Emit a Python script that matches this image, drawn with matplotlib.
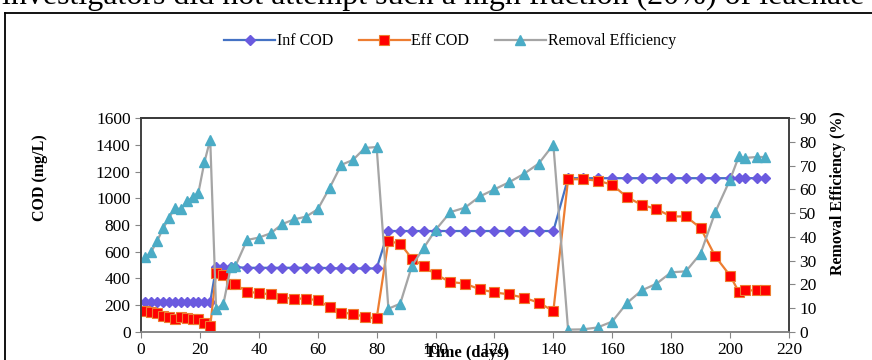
import matplotlib
matplotlib.use("Agg")
import matplotlib.pyplot as plt
from matplotlib.lines import Line2D

plt.rcParams["font.family"] = ["Liberation Serif", "DejaVu Serif"]

# ---- data ----
days = [1.5, 3.5, 5.5, 7.5, 9.5, 11.5, 13.5, 15.5, 17.5, 19.5, 21.5, 23.5,
        25.5, 28, 30.5, 32, 36, 40, 44, 48, 52, 56, 60, 64, 68, 72, 76, 80,
        84, 88, 92, 96, 100, 105, 110, 115, 120, 125, 130, 135, 140,
        145, 150, 155, 160, 165, 170, 175, 180, 185, 190, 195, 200, 203, 205, 209, 212]

inf_cod = [225, 225, 225, 225, 225, 225, 225, 225, 225, 225, 225, 225,
           485, 485, 485, 485, 480, 480, 480, 480, 480, 480, 480, 478, 475, 475, 475, 475,
           755, 755, 755, 755, 755, 755, 755, 755, 755, 755, 755, 755, 755,
           1150, 1150, 1150, 1150, 1150, 1150, 1150, 1150, 1150, 1150, 1150, 1150, 1150, 1150, 1150, 1150]

eff_cod = [160, 150, 140, 122, 115, 100, 112, 104, 96, 96, 66, 42,
           442, 428, 362, 357, 300, 292, 281, 257, 250, 249, 237, 187, 144, 137, 112, 101,
           680, 660, 549, 492, 431, 374, 362, 319, 296, 281, 256, 220, 157,
           1142, 1142, 1132, 1101, 1008, 951, 919, 864, 864, 777, 565, 421, 299, 311, 311, 311]

removal = [31.4, 33.8, 38.3, 43.6, 47.8, 52.3, 51.6, 54.9, 56.7, 58.6, 71.3, 80.9,
           9.6, 11.9, 27.5, 27.6, 38.7, 39.7, 41.5, 45.4, 47.4, 48.5, 51.6, 60.5, 70.3, 72.4, 77.4, 77.8,
           9.8, 11.9, 27.9, 35.4, 42.9, 50.4, 52.3, 57.0, 60.0, 63.0, 66.5, 70.8, 78.8,
           1.0, 1.1, 1.9, 4.4, 12.2, 17.5, 20.3, 25.1, 25.5, 33.0, 50.5, 64.1, 73.9, 73.2, 73.6, 73.6]

x_ticks = list(range(0, 221, 20))
cod_ticks = list(range(0, 1601, 200))
re_ticks = list(range(0, 91, 10))

fig = plt.figure(figsize=(8.72, 3.6), dpi=100)
ax = fig.add_axes([0.1617, 0.0778, 0.7431, 0.5944])
ax2 = ax.twinx()

l1, = ax.plot(days, inf_cod, color="#4472C4", lw=1.6, marker="D", ms=5,
              mfc="#6A5ADF", mec="#6A5ADF", label="Inf COD")
l2, = ax.plot(days, eff_cod, color="#ED7D31", lw=1.6, marker="s", ms=6.5,
              mfc="#FF0000", mec="#ED7D31", mew=0.8, label="Eff COD")
l3, = ax2.plot(days, removal, color="#A5A5A5", lw=1.6, marker="^", ms=7,
               mfc="#4BACC6", mec="#4BACC6", label="Removal Efficiency")

ax.set_xlim(0, 220)
ax.set_ylim(0, 1600)
ax2.set_ylim(0, 90)
ax.set_xticks(x_ticks)
ax.set_yticks(cod_ticks)
ax2.set_yticks(re_ticks)

for a in (ax, ax2):
    a.tick_params(labelsize=12.5, length=4, color="#868686", direction="out")
    for s in a.spines.values():
        s.set_color("#404040")
        s.set_linewidth(1.2)
    a.spines["bottom"].set_color("#868686")
ax.spines["top"].set_color("black")

ax.set_ylabel("COD (mg/L)", fontsize=11.5, fontweight="bold", va="center")
ax.yaxis.set_label_coords(-0.156, 0.72)
ax2.set_ylabel("Removal Efficiency (%)", fontsize=11.5, fontweight="bold", va="center")
ax2.yaxis.set_label_coords(1.076, 0.65)
ax.set_xlabel("Time (days)", fontsize=12, fontweight="bold", va="center")
ax.xaxis.set_label_coords(0.503, -0.098)

fig.legend(handles=[l1, l2, l3], loc="center", bbox_to_anchor=(0.516, 0.885),
           ncol=3, frameon=False, fontsize=11.5, handlelength=3.2,
           columnspacing=1.6, handletextpad=0.1)

# outer frame of the figure box and the cut-off body text above it
fig.add_artist(Line2D([5 / 872, 1.0], [1 - 13 / 360, 1 - 13 / 360],
                      transform=fig.transFigure, color="black", lw=1.3))
fig.add_artist(Line2D([5 / 872, 5 / 872], [0, 1 - 13 / 360],
                      transform=fig.transFigure, color="black", lw=1.3))
fig.text(2 / 872, 1 - 4 / 360, "investigators did not attempt such a high fraction (20%) of leachate",
         fontsize=23, ha="left", va="baseline")

fig.savefig("out.png", dpi=100)
